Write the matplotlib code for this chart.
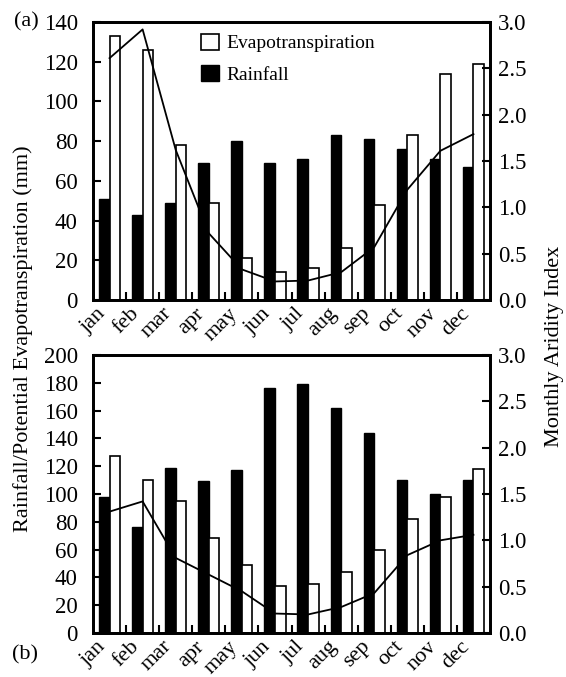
import matplotlib.pyplot as plt
import numpy as np

plt.rcParams['font.family'] = ['Liberation Serif', 'DejaVu Serif']

# ========== 数据 ==========
months = ['jan', 'feb', 'mar', 'apr', 'may', 'jun', 'jul', 'aug', 'sep', 'oct', 'nov', 'dec']

rain_a = [51, 43, 49, 69, 80, 69, 71, 83, 81, 76, 71, 67]
evap_a = [133, 126, 78, 49, 21, 14, 16, 26, 48, 83, 114, 119]
arid_a = [2.61, 2.92, 1.62, 0.72, 0.33, 0.20, 0.21, 0.30, 0.57, 1.19, 1.61, 1.79]

rain_b = [98, 76, 119, 109, 117, 176, 179, 162, 144, 110, 100, 110]
evap_b = [127, 110, 95, 68, 49, 34, 35, 44, 60, 82, 98, 118]
arid_b = [1.31, 1.42, 0.81, 0.63, 0.45, 0.21, 0.20, 0.28, 0.43, 0.84, 1.00, 1.06]

W, H = 566, 677
fig = plt.figure(figsize=(W / 100, H / 100), dpi=100)

x = np.arange(len(months))
bw = 0.32


def panel(rect, rain, evap, arid, ymax, legend=False):
    ax = fig.add_axes(rect)
    ax.bar(x - bw / 2, rain, bw, color='black', edgecolor='black', linewidth=1.0,
           label='Rainfall', zorder=2)
    ax.bar(x + bw / 2, evap, bw, color='white', edgecolor='black', linewidth=1.2,
           label='Evapotranspiration', zorder=2)
    ax.set_xlim(-0.5, len(months) - 0.5)
    ax.set_ylim(0, ymax)
    ax.set_yticks(np.arange(0, ymax + 1, 20))
    ax.set_xticks(x)
    ax.set_xticklabels(months, rotation=45, ha='right', fontsize=16)
    ax.set_xticks(x[:-1] + 0.5, minor=True)
    ax.tick_params(axis='x', which='major', length=0, pad=3)
    ax.tick_params(axis='x', which='minor', direction='in', length=6, width=1.5)
    ax.tick_params(axis='y', direction='in', length=6, width=1.5, labelsize=16.5, pad=11)
    for s in ax.spines.values():
        s.set_linewidth(2)

    ax2 = ax.twinx()
    ax2.plot(x, arid, color='black', linewidth=1.3, zorder=3)
    ax2.set_ylim(0, 3.0)
    ax2.set_yticks(np.arange(0, 3.01, 0.5))
    ax2.set_yticklabels([f'{v:.1f}' for v in np.arange(0, 3.01, 0.5)])
    ax2.tick_params(axis='y', direction='in', length=6, width=1.5, labelsize=16.5, pad=6)
    for s in ax2.spines.values():
        s.set_linewidth(2)

    if legend:
        h, l = ax.get_legend_handles_labels()
        ax.legend(h[::-1], l[::-1], loc='upper left', bbox_to_anchor=(0.243, 1.0),
                  frameon=False, fontsize=14, handlelength=0.9, handleheight=0.9,
                  handletextpad=0.4, labelspacing=0.65, borderaxespad=0.2)
    return ax, ax2


# ========== 子图 (a) ==========
panel([93 / W, 1 - 300 / H, 397 / W, 278 / H], rain_a, evap_a, arid_a, 140, legend=True)

# ========== 子图 (b) ==========
panel([93 / W, 1 - 633 / H, 397 / W, 278 / H], rain_b, evap_b, arid_b, 200)

# 共用坐标轴标题与面板标记
fig.text(23 / W, 0.5, 'Rainfall/Potential Evapotranspiration (mm)', rotation=90,
         ha='center', va='center', fontsize=16)
fig.text(555 / W, 1 - 346 / H, 'Monthly Aridity Index', rotation=90,
         ha='center', va='center', fontsize=16)
fig.text(14 / W, 1 - 22 / H, '(a)', ha='left', va='center', fontsize=16)
fig.text(12 / W, 1 - 655 / H, '(b)', ha='left', va='center', fontsize=16)

plt.savefig('out.png', dpi=100)
plt.close()
